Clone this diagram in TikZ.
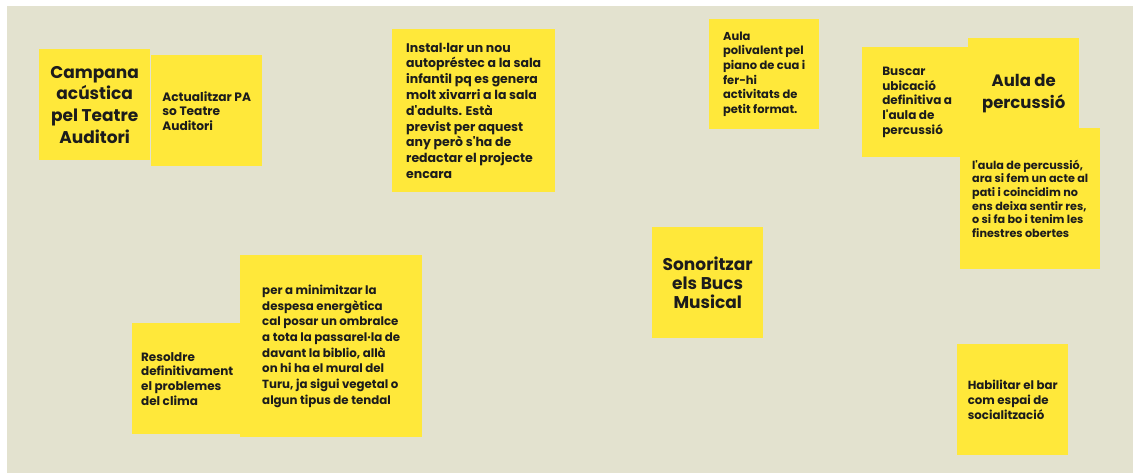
\documentclass[tikz,border=0pt]{standalone}
\usepackage{fontspec}
\setmainfont{Poppins}[Ligatures=TeXOff]
\usetikzlibrary{positioning}

\definecolor{boardbg}{HTML}{E3E2CF}
\definecolor{notey}{HTML}{FFE83A}
\definecolor{ink}{HTML}{1C1C1C}

\begin{document}
\begin{tikzpicture}[x=1pt, y=-1pt,
    note/.style={rectangle, fill=notey, anchor=north west, inner sep=0pt,
        text=ink, font=\bfseries, align=left},
    sq/.style={note, minimum width=111pt, minimum height=111pt},
    title/.style={align=center}]
        \useasboundingbox (0,0) rectangle (1133,473);
        \fill[white] (0,0) rectangle (1133,473);
        \fill[boardbg] (7,6) rectangle (1133,473);

        % left group
        \node[sq, title, font=\bfseries\fontsize{17}{21.7}\selectfont] (campana) at (39,49)
            {Campana\\acústica\\pel Teatre\\Auditori};
        \node[sq, font=\bfseries\fontsize{12.2}{14.5}\selectfont] (actualitzar) at (151,55)
            {Actualitzar PA\\so Teatre\\Auditori};
        \node[note, minimum width=163pt, minimum height=163pt,
            font=\bfseries\fontsize{12.5}{15.8}\selectfont] (installar) at (392,29)
            {Instal·lar un nou\\autopréstec a la sala\\infantil pq es genera\\molt xivarri a la sala\\d'adults. Està\\previst per aquest\\any però s'ha de\\redactar el projecte\\encara};
        \node[note, minimum width=110pt, minimum height=110pt,
            font=\bfseries\fontsize{11.5}{14.7}\selectfont] (polivalent) at (709,19)
            {Aula\\polivalent pel\\piano de cua i\\fer-hi\\activitats de\\petit format.};

        % right group
        \node[note, minimum width=110pt, minimum height=110pt,
            font=\bfseries\fontsize{12}{14.6}\selectfont] (buscar) at (862,47)
            {Buscar\\ubicació\\definitiva a\\l'aula de\\percussió};
        \node[sq, title, font=\bfseries\fontsize{16.5}{21.7}\selectfont] (percussio) at (968,38)
            {Aula de\\percussió};
        \node[note, minimum width=140pt, minimum height=141pt,
            font=\bfseries\fontsize{11.2}{13.7}\selectfont] (laula) at (960,128)
            {l'aula de percussió,\\ara si fem un acte al\\pati i coincidim no\\ens deixa sentir res,\\o si fa bo i tenim les\\finestres obertes};

        % bottom
        \node[note, minimum width=110pt, minimum height=111pt,
            font=\bfseries\fontsize{12}{14.7}\selectfont] (resoldre) at (132,323)
            {Resoldre\\definitivament\\el problemes\\del clima};
        \node[note, minimum width=182pt, minimum height=182pt,
            font=\bfseries\fontsize{11.8}{15.7}\selectfont] (minimitzar) at (240,255)
            {per a minimitzar la\\despesa energètica\\cal posar un ombralce\\a tota la passarel·la de\\davant la biblio, allà\\on hi ha el mural del\\Turu, ja sigui vegetal o\\algun tipus de tendal};
        \node[sq, title, font=\bfseries\fontsize{17}{19.2}\selectfont] (sonoritzar) at (652,227)
            {Sonoritzar\\els Bucs\\Musical};
        \node[sq, font=\bfseries\fontsize{11.8}{15}\selectfont] (habilitar) at (957,344)
            {Habilitar el bar\\com espai de\\socialització};
    \end{tikzpicture}
\end{document}
